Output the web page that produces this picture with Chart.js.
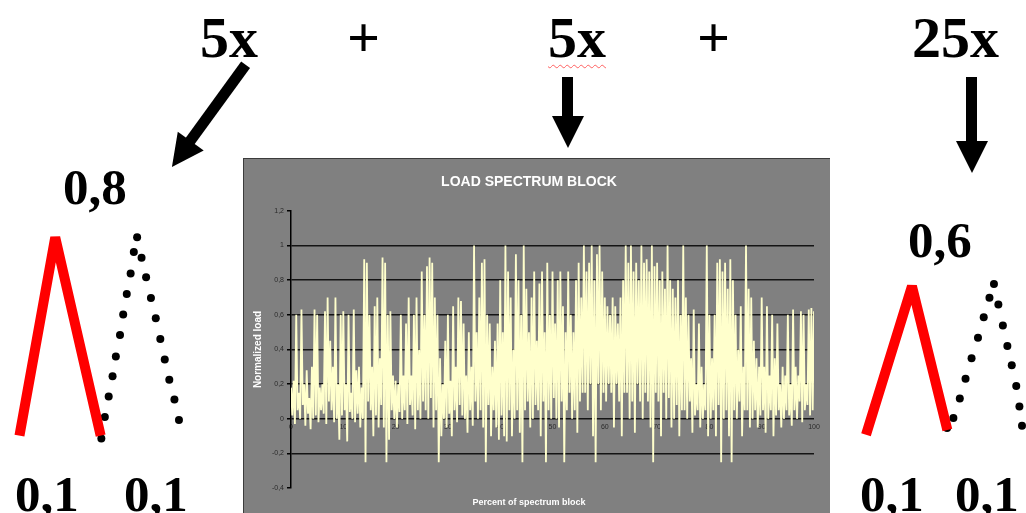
<!DOCTYPE html>
<html lang="en">
<head>
<meta charset="UTF-8">
<title>Load spectrum block</title>
<script src="https://cdn.jsdelivr.net/npm/chart.js"></script>
<style>
  html, body { margin: 0; padding: 0; background: #fff; }
  body { width: 1026px; height: 513px; position: relative; overflow: hidden;
         font-family: "Liberation Serif", "Times New Roman", serif; }
  .big { position: absolute; font-weight: bold; line-height: 1; color: #000; white-space: nowrap; }
  .mult { font-size: 58px; top: 9px; }
  .num { font-size: 51px; }
  .squiggle { text-decoration: underline wavy #ff6060; text-decoration-thickness: 1px; text-underline-offset: 7px; }
  .arrow { position: absolute; height: 32px; transform-origin: 0 50%; }
  .arrow .shaft { position: absolute; left: 0; top: 10.5px; height: 11px; background: #000; }
  .arrow .head { position: absolute; right: 0; top: 0; width: 0; height: 0;
                 border-top: 16px solid transparent; border-bottom: 16px solid transparent; border-left: 32px solid #000; }
  #panel { position: absolute; left: 243px; top: 158px; width: 586px; height: 355px;
           background: #808080; border-left: 1px solid #3c3c3c; border-top: 1px solid #3c3c3c; }
  #panel canvas { display: block; }
  #leftCycle { position: absolute; left: 0; top: 160px; }
  #rightCycle { position: absolute; left: 840px; top: 160px; }
</style>
</head>
<body>
  <div class="big mult" style="left:200px">5x</div>
  <div class="big mult" style="left:347px">+</div>
  <div class="big mult" style="left:548px"><span class="squiggle">5x</span></div>
  <div class="big mult" style="left:697px">+</div>
  <div class="big mult" style="left:912px">25x</div>

  <div class="arrow" style="left:246px; top:49px; width:126px; transform:rotate(126deg)">
    <div class="shaft" style="width:96px"></div><div class="head"></div>
  </div>
  <div class="arrow" style="left:568px; top:61px; width:71px; transform:rotate(90deg)">
    <div class="shaft" style="width:41px"></div><div class="head"></div>
  </div>
  <div class="arrow" style="left:972px; top:61px; width:96px; transform:rotate(90deg)">
    <div class="shaft" style="width:66px"></div><div class="head"></div>
  </div>

  <div class="big num" style="left:63px; top:162px">0,8</div>
  <div class="big num" style="left:908px; top:215px">0,6</div>
  <div class="big num" style="left:15px; top:469px">0,1</div>
  <div class="big num" style="left:124px; top:469px">0,1</div>
  <div class="big num" style="left:860px; top:469px">0,1</div>
  <div class="big num" style="left:955px; top:469px">0,1</div>

  <canvas id="leftCycle" width="240" height="353"></canvas>
  <canvas id="rightCycle" width="186" height="353"></canvas>

  <div id="panel"><canvas id="spectrum" width="586" height="355"></canvas></div>

<script>
  // sampled load, one value every 0.25 % of the block
  const pctStep = 0.25;
  const loadValues = [
    0.18, 0.02, 0.22, -0.03, 0.6, 0.05, 0.15, 0.0, 0.63, 0.08, 0.2, -0.04, 0.28, 0.03, 0.12, -0.06, 0.3, 0.0, 0.63, 0.02,
    0.6, -0.02, 0.18, 0.05, 0.2, 0.03, 0.62, -0.03, 0.7, 0.1, 0.45, 0.05, 0.3, -0.02, 0.7, 0.0, 0.2, -0.12, 0.6, 0.02,
    0.62, 0.05, 0.2, -0.13, 0.6, 0.04, 0.15, 0.0, 0.63, -0.02, 0.28, 0.03, 0.3, -0.05, 0.18, 0.0, 0.92, -0.25, 0.9, 0.1,
    0.6, 0.05, 0.3, -0.1, 0.65, 0.02, 0.7, -0.05, 0.35, 0.08, 0.93, -0.05, 0.9, -0.25, 0.6, -0.12, 0.62, 0.05, 0.25, 0.0,
    0.22, -0.05, 0.2, 0.04, 0.6, 0.0, 0.25, 0.05, 0.55, -0.03, 0.7, 0.08, 0.25, 0.02, 0.6, -0.06, 0.7, 0.05, 0.4, 0.0,
    0.85, 0.1, 0.6, 0.05, 0.88, 0.0, 0.93, 0.12, 0.9, -0.05, 0.7, 0.05, 0.6, -0.25, 0.35, -0.1, 0.2, 0.0, 0.45, -0.05,
    0.6, 0.03, 0.22, -0.1, 0.65, 0.05, 0.3, -0.02, 0.7, 0.08, 0.68, 0.02, 0.55, 0.0, 0.25, -0.08, 0.5, 0.05, 0.3, -0.04,
    1.0, 0.1, 0.5, 0.0, 0.7, 0.05, 0.9, -0.05, 0.92, -0.25, 0.6, 0.08, 0.55, -0.1, 0.3, 0.05, 0.45, -0.05, 0.55, -0.12,
    0.8, 0.02, 0.5, -0.1, 1.0, -0.13, 0.85, 0.05, 0.7, -0.1, 0.4, 0.0, 0.95, 0.05, 0.8, -0.08, 0.6, -0.25, 1.0, 0.05,
    0.75, 0.1, 0.5, -0.05, 0.7, 0.0, 0.85, 0.08, 0.45, 0.05, 0.78, -0.1, 0.85, 0.1, 0.5, -0.25, 0.9, 0.05, 0.6, 0.0,
    0.85, 0.12, 0.55, 0.0, 0.8, -0.05, 0.85, 0.1, 0.65, -0.25, 0.5, 0.05, 0.85, 0.15, 0.6, 0.0, 0.5, 0.05, 0.8, -0.08,
    0.9, 0.1, 0.7, 0.15, 1.0, 0.15, 0.85, 0.05, 0.9, 0.2, 1.0, -0.1, 0.8, -0.25, 0.95, 0.2, 1.0, 0.05, 0.85, 0.15,
    0.7, 0.1, 0.65, 0.2, 0.6, 0.15, 0.7, -0.05, 0.65, 0.2, 0.55, 0.1, 0.7, -0.1, 0.8, 0.15, 1.0, 0.15, 0.9, 0.0,
    1.0, 0.1, 0.85, -0.08, 0.9, 0.2, 0.8, 0.1, 1.0, 0.0, 0.9, 0.15, 0.92, 0.1, 0.85, -0.05, 1.0, -0.25, 0.88, 0.15,
    0.9, 0.1, 0.8, -0.1, 0.85, 0.15, 0.75, 0.0, 1.0, 0.12, 0.8, -0.05, 0.75, 0.0, 0.7, 0.08, 0.8, -0.1, 0.6, 0.05,
    1.0, 0.05, 0.7, 0.0, 0.6, 0.1, 0.35, -0.08, 0.63, 0.02, 0.2, 0.05, 0.55, -0.05, 0.3, 0.0, 0.2, 0.05, 1.0, -0.1,
    0.6, 0.0, 0.35, 0.05, 0.6, -0.1, 0.9, 0.08, 0.92, -0.25, 0.85, 0.0, 0.9, 0.05, 0.75, -0.1, 0.92, -0.25, 0.8, 0.05,
    0.6, 0.0, 0.4, 0.1, 0.65, -0.1, 0.3, 0.05, 1.0, 0.05, 0.75, -0.05, 0.7, 0.0, 0.45, 0.05, 0.35, -0.05, 0.3, 0.02,
    0.7, 0.05, 0.3, -0.08, 0.65, 0.0, 0.25, 0.05, 0.6, -0.1, 0.35, 0.02, 0.55, 0.05, 0.2, -0.05, 0.3, 0.0, 0.25, 0.05,
    0.6, 0.02, 0.2, -0.04, 0.63, 0.05, 0.3, 0.0, 0.25, 0.1, 0.62, -0.02, 0.6, 0.05, 0.2, 0.08, 0.63, 0.02, 0.64, 0.05,
    0.62
  ];

  // sketched load cycles (time in arbitrary steps, load normalised)
  const leftRedTime = [0, 3.7, 8.4];
  const leftRedLoad = [0.1, 0.8, 0.1];
  const leftDotTime = [8.47, 8.83, 9.23, 9.63, 9.97, 10.4, 10.73, 11.1, 11.5, 11.83, 12.17, 12.63, 13.1, 13.6, 14.1, 14.57, 15.03, 15.5, 16.03, 16.5];
  const leftDotLoad = [0.09, 0.166, 0.238, 0.31, 0.379, 0.455, 0.528, 0.6, 0.672, 0.748, 0.8, 0.728, 0.659, 0.586, 0.514, 0.441, 0.369, 0.297, 0.228, 0.155];
  const rightRedTime = [0, 4.8, 8.5];
  const rightRedLoad = [0.1, 0.6, 0.116];
  const rightDotTime = [8.47, 9.13, 9.8, 10.4, 11.03, 11.7, 12.3, 12.9, 13.37, 13.83, 14.3, 14.77, 15.23, 15.7, 16.03, 16.3];
  const rightDotLoad = [0.123, 0.156, 0.222, 0.288, 0.357, 0.426, 0.495, 0.561, 0.607, 0.538, 0.468, 0.399, 0.334, 0.264, 0.195, 0.13];

  function pairs(xs, ys) {
    return xs.map((x, i) => ({ x: x, y: ys[i] }));
  }

  const spectrumPoints = loadValues.map((v, i) => ({ x: i * pctStep, y: v }));
  const sans = "'Liberation Sans', Arial, sans-serif";

  new Chart(document.getElementById("spectrum"), {
    type: "line",
    data: {
      datasets: [{
        data: spectrumPoints,
        borderColor: "#ffffcc",
        borderWidth: 1.8,
        pointRadius: 0,
        tension: 0
      }]
    },
    options: {
      responsive: false,
      animation: false,
      devicePixelRatio: 1,
      layout: { padding: { left: 0, right: 16, top: 0, bottom: 0 } },
      plugins: {
        legend: { display: false },
        tooltip: { enabled: false },
        title: {
          display: true,
          text: "LOAD SPECTRUM BLOCK",
          color: "#ffffff",
          font: { family: sans, size: 14, weight: "bold" },
          padding: { top: 15, bottom: 20 }
        },
        subtitle: {
          display: true,
          position: "bottom",
          text: "Percent of spectrum block",
          color: "#ffffff",
          font: { family: sans, size: 9, weight: "bold" },
          padding: { top: 9, bottom: 6 }
        }
      },
      scales: {
        x: {
          type: "linear",
          min: 0,
          max: 100,
          position: { y: 0 },
          grid: { display: false, drawTicks: false },
          border: { display: false },
          ticks: { stepSize: 10, color: "#2a2a2a", font: { family: sans, size: 7 }, padding: 4, maxRotation: 0 }
        },
        y: {
          min: -0.4,
          max: 1.2,
          afterFit: scale => { scale.width = 47; },
          grid: {
            color: ctx => (ctx.tick && (ctx.tick.value > 1.1 || ctx.tick.value < -0.3)) ? "rgba(0,0,0,0)" : "#141414",
            lineWidth: 1.5,
            tickColor: "#000",
            tickLength: 4
          },
          border: { display: true, color: "#000", width: 1.5 },
          ticks: {
            stepSize: 0.2,
            color: "#2a2a2a",
            font: { family: sans, size: 7 },
            padding: 3,
            callback: v => String(Math.round(v * 10) / 10).replace(".", ",")
          },
          title: {
            display: true,
            text: "Normalized load",
            color: "#ffffff",
            font: { family: sans, size: 10, weight: "bold" },
            padding: { top: 8, bottom: 0 }
          }
        }
      }
    }
  });

  function cycleChart(id, redPts, dotPts, xr, yr) {
    new Chart(document.getElementById(id), {
      type: "scatter",
      data: {
        datasets: [
          {
            data: redPts,
            showLine: true,
            borderColor: "#ff0000",
            borderWidth: 10,
            borderJoinStyle: "bevel",
            borderCapStyle: "butt",
            pointRadius: 0,
            clip: false
          },
          {
            data: dotPts,
            showLine: false,
            pointRadius: 4,
            pointBackgroundColor: "#000",
            pointBorderWidth: 0,
            clip: false
          }
        ]
      },
      options: {
        responsive: false,
        animation: false,
        devicePixelRatio: 1,
        layout: { padding: 0 },
        plugins: { legend: { display: false }, tooltip: { enabled: false } },
        scales: {
          x: { type: "linear", display: false, min: xr[0], max: xr[1] },
          y: { type: "linear", display: false, min: yr[0], max: yr[1] }
        }
      }
    });
  }

  cycleChart("leftCycle", pairs(leftRedTime, leftRedLoad), pairs(leftDotTime, leftDotLoad), [-1.6, 22.4], [-0.1586, 1.0586]);
  cycleChart("rightCycle", pairs(rightRedTime, rightRedLoad), pairs(rightDotTime, rightDotLoad), [-2.3, 16.3], [-0.15, 1.0112]);
</script>
</body>
</html>
